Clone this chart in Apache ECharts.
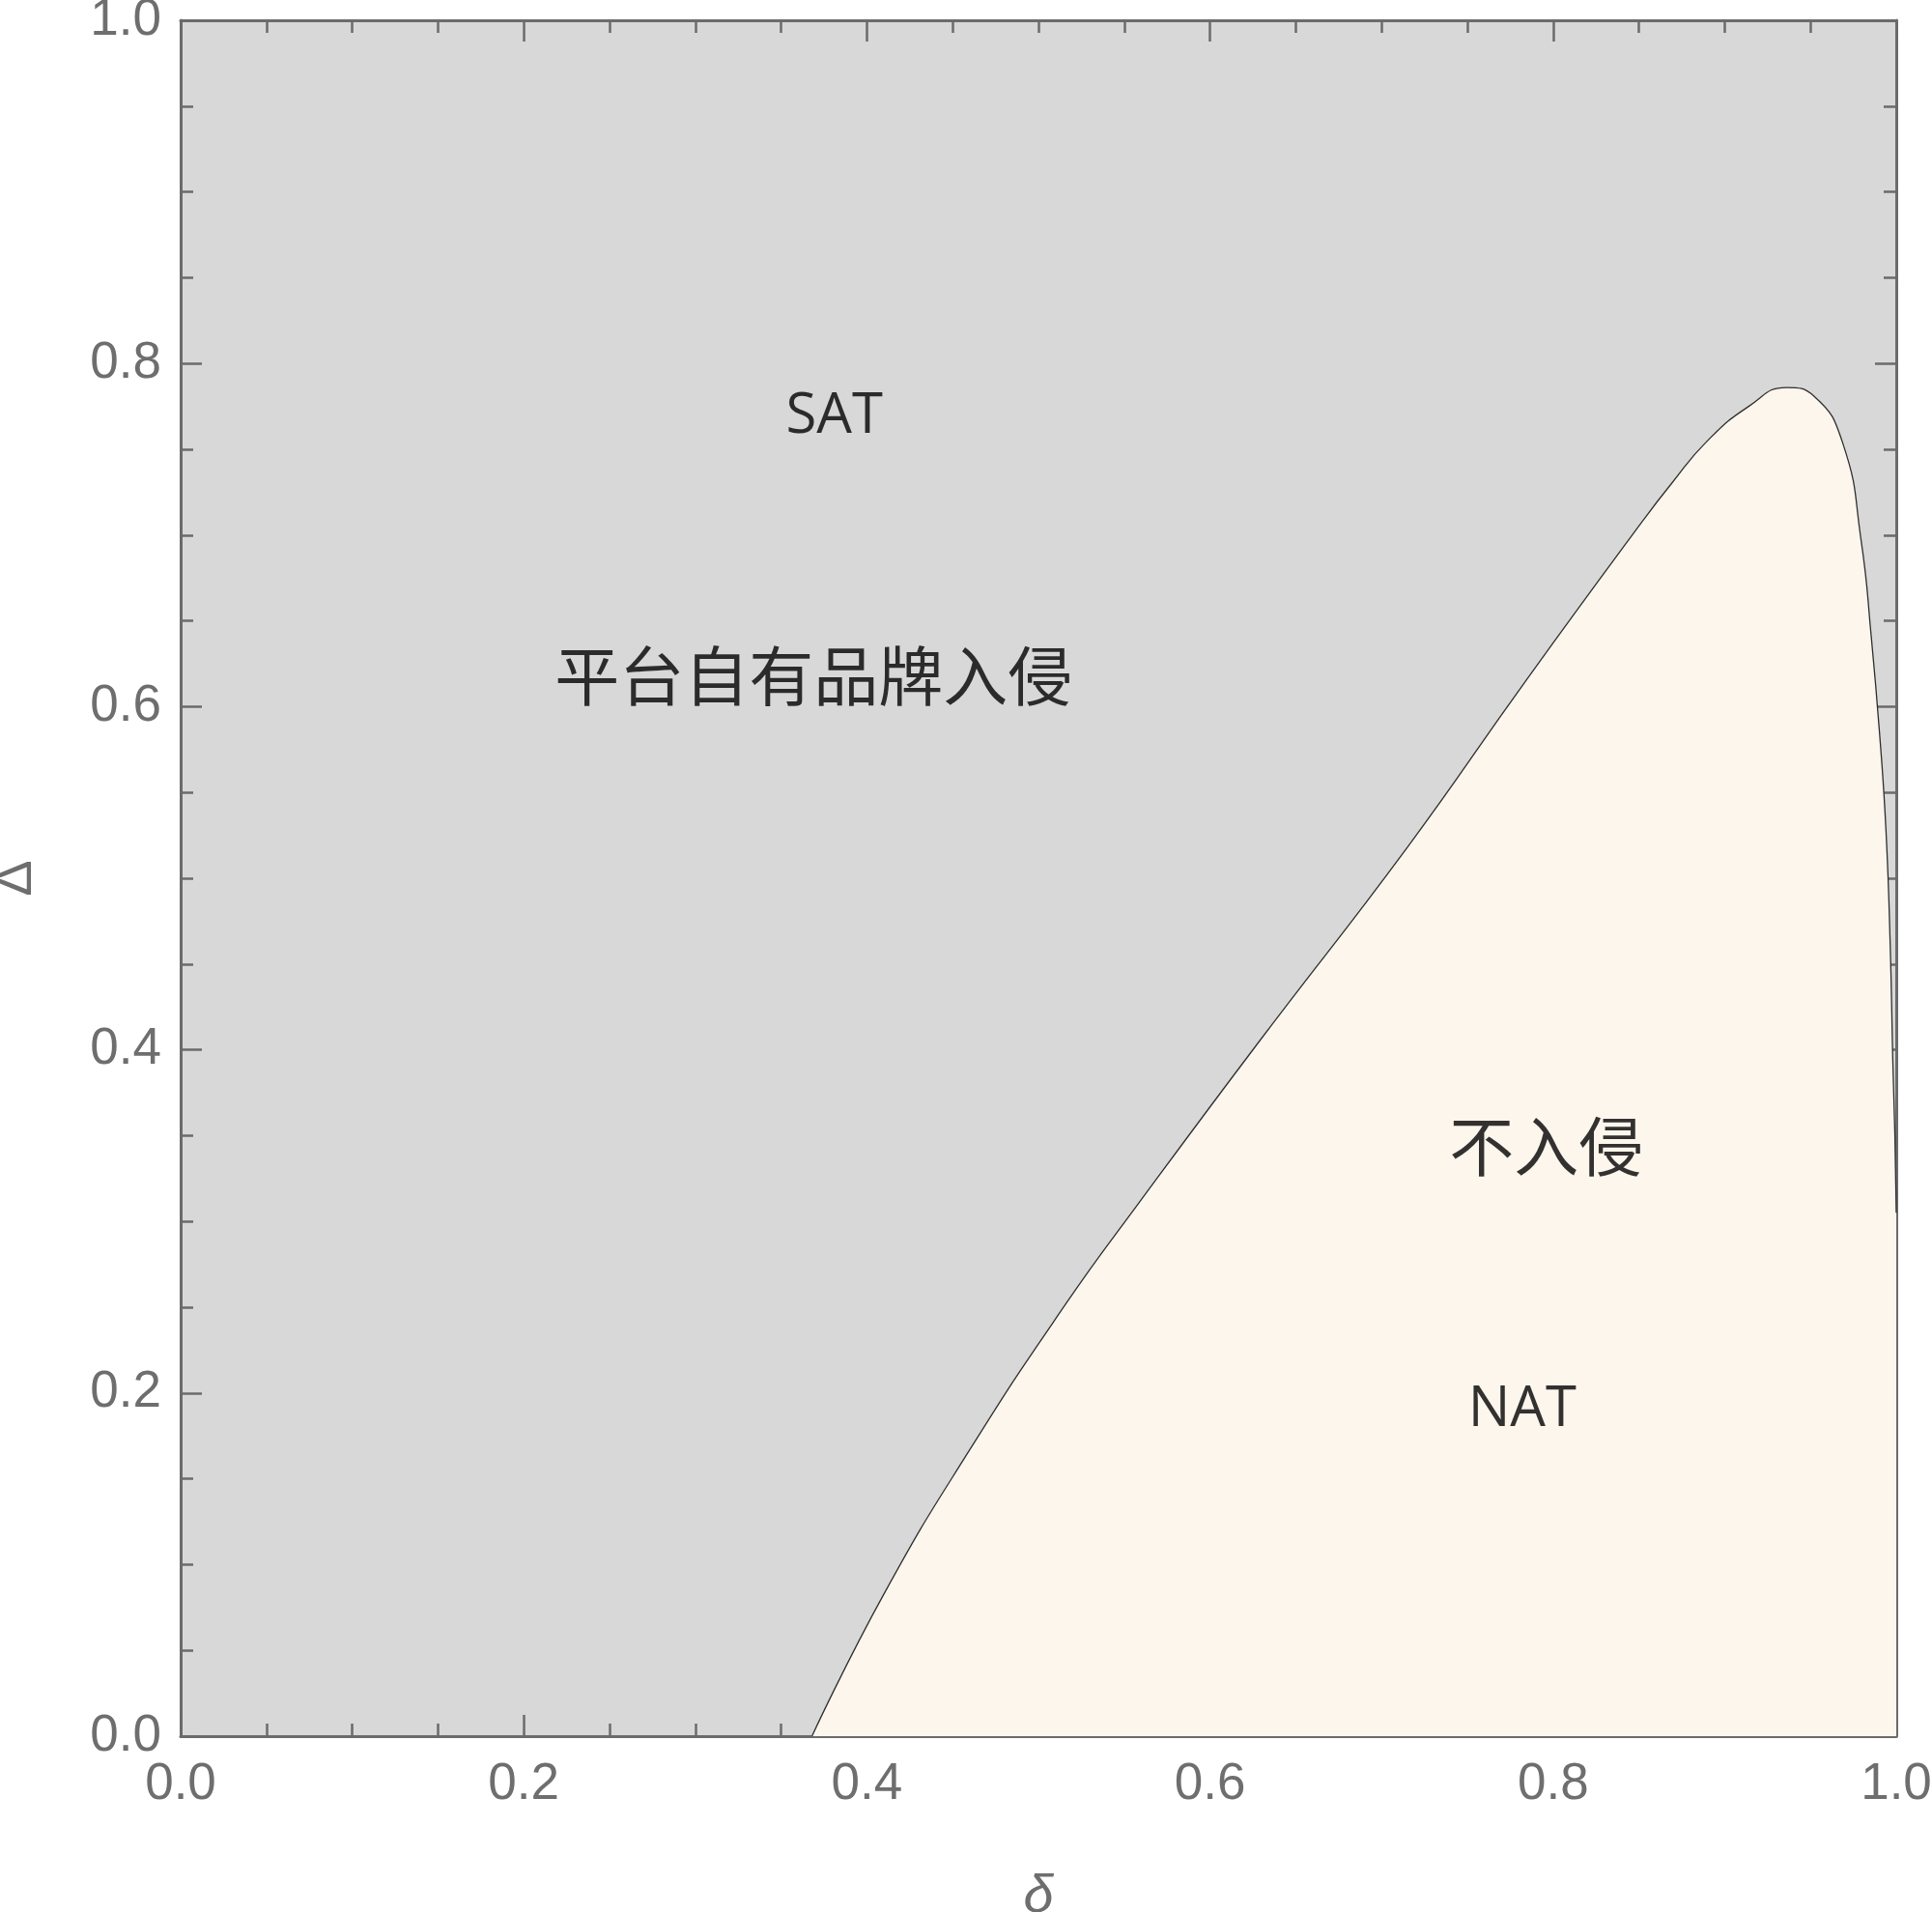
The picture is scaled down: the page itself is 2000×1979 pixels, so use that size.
<!DOCTYPE html>
<html>
<head>
<meta charset="utf-8">
<title>SAT / NAT</title>
<script src="https://cdn.jsdelivr.net/npm/echarts@6/dist/echarts.min.js"></script>
<style>
  html, body { margin: 0; padding: 0; background: #fff; }
  #chart { width: 2000px; height: 1979px; }
</style>
</head>
<body>
<div id="chart"></div>
<script>
  // boundary between the two regions, delta -> Delta
  const curveDelta = [0.368, 0.410, 0.460, 0.516, 0.558, 0.628, 0.715, 0.784, 0.852, 0.869, 0.890, 0.914, 0.936, 0.952, 0.969, 0.9795, 0.9855, 0.9903, 0.994, 0.9965, 0.998, 0.9992, 1.0];
  const curveDeltaCap = [0.0, 0.083, 0.167, 0.252, 0.310, 0.404, 0.518, 0.615, 0.708, 0.730, 0.755, 0.775, 0.786, 0.781, 0.753, 0.697, 0.640, 0.584, 0.528, 0.460, 0.393, 0.350, 0.305];

  // region labels
  const regionNames = ['SAT', '平台自有品牌入侵', '不入侵', 'NAT'];
  const regionX = [0.381, 0.369, 0.796, 0.782];
  const regionY = [0.769, 0.618, 0.3435, 0.190];

  // axis ticks
  const tickValues = [0, 0.2, 0.4, 0.6, 0.8, 1.0];

  const axisGray = '#6b6b6b';
  const labelGray = '#6e6e6e';

  function tickLabel(v) {
    // only show the major ticks, one decimal
    for (let i = 0; i < tickValues.length; i++) {
      if (Math.abs(tickValues[i] - v) < 1e-9) return tickValues[i].toFixed(1);
    }
    return '';
  }

  function makeAxis(pos, showLabel, name) {
    return {
      type: 'value',
      position: pos,
      min: 0,
      max: 1,
      interval: 0.2,
      name: name || '',
      nameLocation: 'middle',
      nameGap: pos === 'bottom' ? 138 : 142,
      nameTextStyle: {
        color: labelGray,
        fontSize: 56,
        fontFamily: 'Liberation Sans',
        fontStyle: pos === 'bottom' ? 'italic' : 'normal'
      },
      axisLine: { show: true, onZero: false, lineStyle: { color: axisGray, width: 3 } },
      axisTick: { show: true, inside: true, length: 22, lineStyle: { color: axisGray, width: 2.5 } },
      minorTick: { show: true, splitNumber: 4, length: 13, lineStyle: { color: axisGray, width: 2.5 } },
      axisLabel: {
        show: showLabel,
        color: labelGray,
        fontSize: 53,
        fontFamily: 'Liberation Sans',
        margin: pos === 'bottom' ? 24 : 20,
        formatter: tickLabel
      },
      splitLine: { show: false },
      minorSplitLine: { show: false }
    };
  }

  const curveData = curveDelta.map((d, i) => [d, curveDeltaCap[i]]);

  const labelData = regionNames.map((n, i) => {
    const cjk = /[\u4e00-\u9fff]/.test(n);
    return {
      name: n,
      value: [regionX[i], regionY[i]],
      label: {
        fontSize: cjk ? 67 : 58,
        fontFamily: cjk ? 'Noto Sans CJK SC' : 'Open Sans'
      }
    };
  });

  const option = {
    backgroundColor: '#ffffff',
    animation: false,
    grid: {
      left: 187,
      top: 21,
      right: 37,
      bottom: 182,
      containLabel: false,
      outerBoundsMode: 'none',
      show: true,
      backgroundColor: '#d8d8d8',
      borderWidth: 0
    },
    xAxis: [
      makeAxis('bottom', true, 'δ'),
      makeAxis('top', false)
    ],
    yAxis: [
      makeAxis('left', true, 'Δ'),
      makeAxis('right', false)
    ],
    series: [
      {
        // NAT region = area under the boundary curve
        type: 'line',
        data: curveData,
        smooth: 0.5,
        symbol: 'none',
        clip: true,
        silent: true,
        lineStyle: { color: '#2e2e2e', width: 1.3 },
        areaStyle: { color: '#fdf6ed', opacity: 1 },
        z: 1
      },
      {
        type: 'scatter',
        data: labelData,
        symbolSize: 0,
        silent: true,
        label: {
          show: true,
          position: 'inside',
          color: '#000000',
          formatter: p => p.name
        },
        z: 5
      }
    ]
  };

  const myChart = echarts.init(document.getElementById('chart'));
  myChart.setOption(option);
</script>
</body>
</html>
